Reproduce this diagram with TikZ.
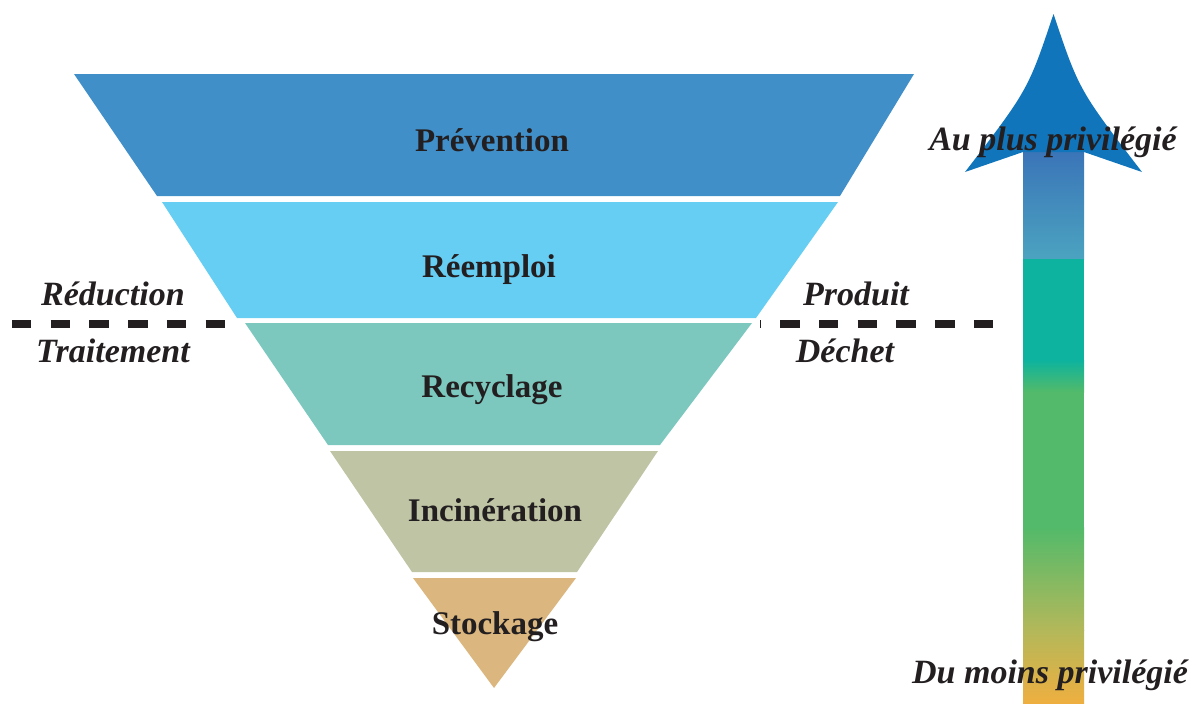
\documentclass[tikz,border=0pt]{standalone}
\usepackage{fontspec}
\setmainfont{Liberation Serif}
\definecolor{ink}{HTML}{231F20}
\definecolor{prev}{HTML}{418FC9}
\definecolor{reem}{HTML}{66CDF3}
\definecolor{recy}{HTML}{7CC8BF}
\definecolor{inci}{HTML}{BFC4A4}
\definecolor{stoc}{HTML}{DBB77F}
\definecolor{head}{HTML}{1175BC}
\definecolor{shA}{HTML}{3A74B8}
\definecolor{shB}{HTML}{4BA3C0}
\definecolor{shC}{HTML}{0DB39E}
\definecolor{shD}{HTML}{52BA6A}
\definecolor{shE}{HTML}{B3B85A}
\definecolor{shF}{HTML}{EEAF40}
\tikzset{T/.style={anchor=base, text=ink, font=\fontsize{16.5}{20}\selectfont\bfseries}}
\tikzset{S/.style={anchor=base, text=ink, font=\fontsize{17}{20}\selectfont\bfseries\itshape}}
\tikzset{D/.style={draw=ink, line width=4pt, dash pattern=on 9.7pt off 9.65pt}}

\begin{document}
\begin{tikzpicture}[x=0.5pt, y=-0.5pt]
    \useasboundingbox (0,0) rectangle (1191,703);
    % funnel
    \fill[prev] (74,74) -- (914,74) -- (840,196) -- (157,196) -- cycle;
    \fill[reem] (162,202) -- (838,202) -- (756,318) -- (237,318) -- cycle;
    \fill[recy] (245,323) -- (752,323) -- (660,445) -- (328,445) -- cycle;
    \fill[inci] (330,451) -- (658,451) -- (577,572) -- (412,572) -- cycle;
    \fill[stoc] (413,578) -- (576,578) -- (494,688) -- cycle;
    \node[T] (prevention) at (492,151) {Prévention};
    \node[T] (reemploi) at (489,277) {Réemploi};
    \node[T] (recyclage) at (492,397) {Recyclage};
    \node[T] (incineration) at (495,521) {Incinération};
    \node[T] (stockage) at (495,634) {Stockage};
    % dashed border
    \coordinate (l1) at (12,324);
    \coordinate (l2) at (225,324);
    \coordinate (r1) at (760,324);
    \coordinate (r2) at (993,324);
    \draw[D] (l1) -- (l2);
    \draw[D, dash phase=9.2pt] (r1) -- (r2);
    \node[S] (reduction) at (113,305) {Réduction};
    \node[S] (traitement) at (113,362) {Traitement};
    \node[S] (produit) at (856,305) {Produit};
    \node[S] (dechet) at (845,362) {Déchet};
    % arrow
    \shade[top color=shA, bottom color=shB] (1023,150) rectangle (1084,259);
    \fill[shC] (1023,259) rectangle (1084,360);
    \shade[top color=shC, bottom color=shD] (1023,360) rectangle (1084,392);
    \fill[shD] (1023,392) rectangle (1084,527);
    \shade[top color=shD, bottom color=shE] (1023,527) rectangle (1084,630);
    \shade[top color=shE, bottom color=shF] (1023,630) rectangle (1084,703);
    \fill[head] (1053.5,14) .. controls (1028,90) .. (965,172) -- (1023,152)
        -- (1084,152) -- (1142,172) .. controls (1079,90) .. cycle;
    \node[S] (haut) at (1053,150) {Au plus privilégié};
    \node[S] (bas) at (1050,683) {Du moins privilégié};
\end{tikzpicture}
\end{document}
